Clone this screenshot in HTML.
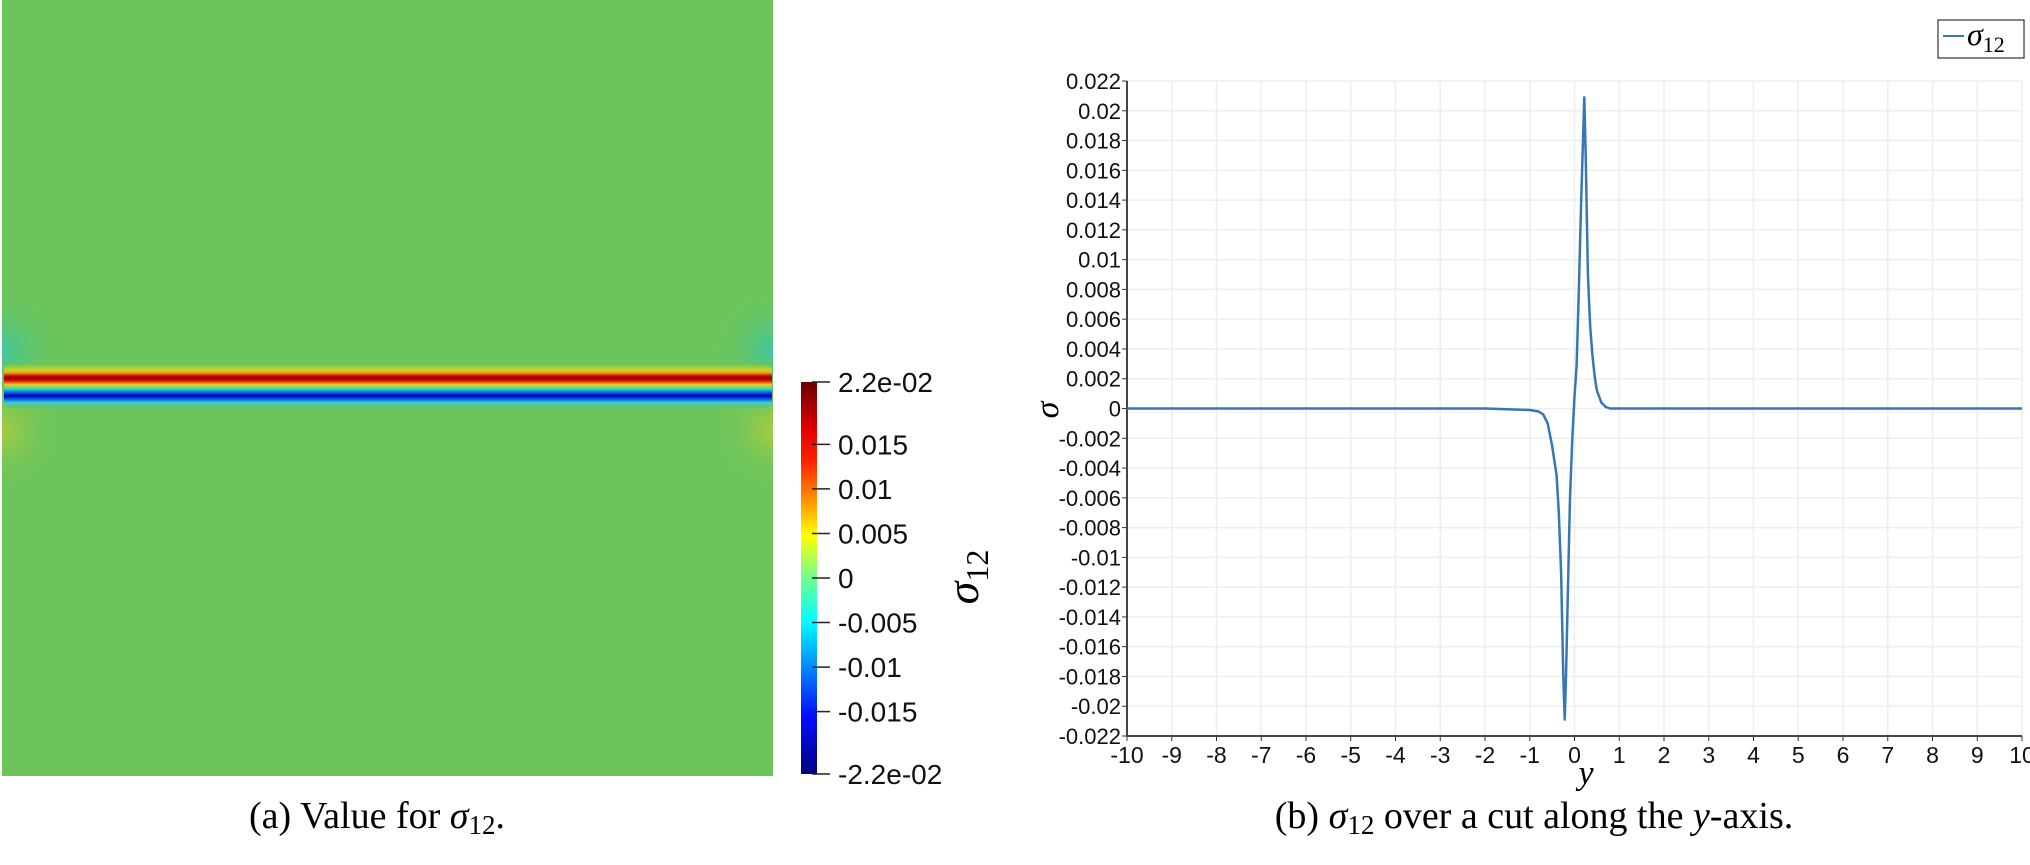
<!DOCTYPE html>
<html><head><meta charset="utf-8">
<style>
html,body{margin:0;padding:0;background:#fff;}
body{width:2030px;height:865px;position:relative;overflow:hidden;font-family:"Liberation Sans",sans-serif;}
svg{position:absolute;left:0;top:0;}
</style></head>
<body>
<svg id="fig" width="2030" height="865" viewBox="0 0 2030 865">
<defs>
<linearGradient id="band" x1="0" y1="364" x2="0" y2="408" gradientUnits="userSpaceOnUse">
<stop offset="0" stop-color="#6cc55c"/>
<stop offset="0.14" stop-color="#c8d42a"/>
<stop offset="0.2" stop-color="#f5a000"/>
<stop offset="0.26" stop-color="#e81000"/>
<stop offset="0.31" stop-color="#800000"/>
<stop offset="0.38" stop-color="#e01000"/>
<stop offset="0.47" stop-color="#e8d020"/>
<stop offset="0.57" stop-color="#30d8b0"/>
<stop offset="0.65" stop-color="#0060ff"/>
<stop offset="0.72" stop-color="#00008a"/>
<stop offset="0.79" stop-color="#0050ff"/>
<stop offset="0.88" stop-color="#40d0c0"/>
<stop offset="1" stop-color="#6cc55c"/>
</linearGradient>
<linearGradient id="cbar" x1="0" y1="382" x2="0" y2="774" gradientUnits="userSpaceOnUse">
<stop offset="0" stop-color="#6a0000"/>
<stop offset="0.12" stop-color="#e00000"/>
<stop offset="0.2" stop-color="#ff2000"/>
<stop offset="0.3" stop-color="#ff9000"/>
<stop offset="0.39" stop-color="#ffff00"/>
<stop offset="0.5" stop-color="#70ff90"/>
<stop offset="0.61" stop-color="#00ffff"/>
<stop offset="0.72" stop-color="#0090ff"/>
<stop offset="0.85" stop-color="#0010ff"/>
<stop offset="1" stop-color="#000080"/>
</linearGradient>
<radialGradient id="tealL" cx="2" cy="350" r="60" gradientUnits="userSpaceOnUse">
<stop offset="0" stop-color="#3fc8a0"/><stop offset="1" stop-color="#6cc55c" stop-opacity="0"/>
</radialGradient>
<radialGradient id="tealR" cx="773" cy="350" r="60" gradientUnits="userSpaceOnUse">
<stop offset="0" stop-color="#3fc8a0"/><stop offset="1" stop-color="#6cc55c" stop-opacity="0"/>
</radialGradient>
<radialGradient id="yelL" cx="2" cy="430" r="60" gradientUnits="userSpaceOnUse">
<stop offset="0" stop-color="#a8cc40"/><stop offset="1" stop-color="#6cc55c" stop-opacity="0"/>
</radialGradient>
<radialGradient id="yelR" cx="773" cy="430" r="60" gradientUnits="userSpaceOnUse">
<stop offset="0" stop-color="#a8cc40"/><stop offset="1" stop-color="#6cc55c" stop-opacity="0"/>
</radialGradient>
</defs>
<g>
<rect x="2" y="0" width="771" height="776" fill="#6cc55c"/>
<rect x="2" y="290" width="70" height="200" fill="url(#tealL)"/>
<rect x="703" y="290" width="70" height="200" fill="url(#tealR)"/>
<rect x="2" y="390" width="70" height="120" fill="url(#yelL)"/>
<rect x="703" y="390" width="70" height="120" fill="url(#yelR)"/>
<rect x="4" y="364" width="768" height="44" rx="6" fill="url(#band)"/>
</g>
<g>
<rect x="801" y="382" width="16" height="392" fill="url(#cbar)"/>
<g id="cbticks" font-size="28" fill="#111"></g>
<text x="0" y="0" transform="translate(978,577) rotate(-90)" text-anchor="middle" font-family="Liberation Serif,serif" font-style="italic" font-size="46">σ<tspan font-style="normal" font-size="32" dy="10">12</tspan></text>
</g>
<g id="chart"></g>
<text x="377" y="828" text-anchor="middle" font-family="Liberation Serif,serif" font-size="38">(a) Value for <tspan font-style="italic">σ</tspan><tspan font-size="27" dy="6">12</tspan><tspan dy="-6">.</tspan></text>
<text x="1534" y="828" text-anchor="middle" font-family="Liberation Serif,serif" font-size="38">(b) <tspan font-style="italic">σ</tspan><tspan font-size="27" dy="6">12</tspan><tspan dy="-6"> over a cut along the </tspan><tspan font-style="italic">y</tspan>-axis.</text>
</svg>
<script>
const cbValues=[0.022,0.015,0.01,0.005,0,-0.005,-0.01,-0.015,-0.022];
const cbLabels=["2.2e-02","0.015","0.01","0.005","0","-0.005","-0.01","-0.015","-2.2e-02"];
const xTicks=[-10,-9,-8,-7,-6,-5,-4,-3,-2,-1,0,1,2,3,4,5,6,7,8,9,10];
const yTicks=[0.022,0.02,0.018,0.016,0.014,0.012,0.01,0.008,0.006,0.004,0.002,0,-0.002,-0.004,-0.006,-0.008,-0.01,-0.012,-0.014,-0.016,-0.018,-0.02,-0.022];
const cutY=[-10,-5,-2,-1,-0.8,-0.7,-0.6,-0.5,-0.4,-0.35,-0.3,-0.25,-0.22,-0.19,-0.15,-0.1,-0.05,0,0.05,0.1,0.15,0.19,0.22,0.25,0.3,0.35,0.4,0.45,0.5,0.6,0.7,0.8,1,2,5,10];
const sigma12=[0,0,0,-0.0001,-0.0002,-0.0004,-0.001,-0.0025,-0.0045,-0.007,-0.011,-0.018,-0.0209,-0.018,-0.0125,-0.006,-0.002,0.0008,0.003,0.0084,0.014,0.018,0.0209,0.017,0.009,0.0055,0.0036,0.0022,0.0012,0.0004,0.0001,0,0,0,0,0];
const NS="http://www.w3.org/2000/svg";
function mk(tag,attrs,parent){const e=document.createElementNS(NS,tag);for(const k in attrs)e.setAttribute(k,attrs[k]);parent.appendChild(e);return e;}
const cbg=document.getElementById('cbticks');
const cbY=v=>382+(0.022-v)/0.044*392;
cbValues.forEach((v,i)=>{
  const y=cbY(v);
  const t=mk('line',{x1:812,x2:830,y1:y,y2:y,stroke:'#222','stroke-width':1.5},cbg);
  
  
  const l=mk('text',{x:838,y:y+10},cbg);
  l.textContent=cbLabels[i];
  
  
});
const ch=document.getElementById('chart');
const X0=1127,X1=2022,Y0=81,Y1=736;
const sx=v=>X0+(v+10)/20*(X1-X0);
const sy=v=>Y0+(0.022-v)/0.044*(Y1-Y0);
xTicks.forEach(v=>{
  const x=sx(v);
  if(v>-10){const g=mk('line',{x1:x,x2:x,y1:Y0,y2:Y1,stroke:'#eeeeee','stroke-width':1.5},ch);
  }
  const t=mk('line',{x1:x,x2:x,y1:Y1,y2:Y1+5,stroke:'#333','stroke-width':1},ch);
  
  const l=mk('text',{x:x,y:Y1+27,'text-anchor':'middle','font-size':23,fill:'#111'},ch);
  l.textContent=String(v);
  
});
yTicks.forEach(v=>{
  const y=sy(v);
  if(v>-0.022){const g=mk('line',{x1:X0,x2:X1,y1:y,y2:y,stroke:'#eeeeee','stroke-width':1.5},ch);
  }
  const t=mk('line',{x1:X0-5,x2:X0,y1:y,y2:y,stroke:'#333','stroke-width':1},ch);
  
  const l=mk('text',{x:X0-6,y:y+8,'text-anchor':'end','font-size':22,fill:'#111'},ch);
  l.textContent=String(v);
  
});
const ax=mk('path',{d:`M${X0},${Y0} V${Y1} H${X1}`,fill:'none',stroke:'#444','stroke-width':2},ch);

const pts=cutY.map((v,i)=>sx(v).toFixed(1)+','+sy(sigma12[i]).toFixed(1)).join(' ');
const ln=mk('polyline',{points:pts,fill:'none',stroke:'#3776b8','stroke-width':2.5,'stroke-linejoin':'round'},ch);

const yt=mk('text',{x:0,y:0,transform:'translate(1058,410) rotate(-90)','text-anchor':'middle','font-family':'Liberation Serif,serif','font-style':'italic','font-size':34},ch);
yt.textContent='σ';

const xt=mk('text',{x:1586,y:784,'text-anchor':'middle','font-family':'Liberation Serif,serif','font-style':'italic','font-size':34},ch);
xt.textContent='y';

const lg=mk('g',{},ch);

mk('rect',{x:1938,y:20,width:86,height:38,fill:'#fff',stroke:'#333','stroke-width':1.2},lg);
mk('line',{x1:1943,x2:1964,y1:36,y2:36,stroke:'#3776b8','stroke-width':2},lg);
const lt=mk('text',{x:1967,y:45,'font-family':'Liberation Serif,serif','font-style':'italic','font-size':32},lg);
lt.innerHTML='σ<tspan font-style="normal" font-size="22" dy="7">12</tspan>';

</script>
</body></html>
